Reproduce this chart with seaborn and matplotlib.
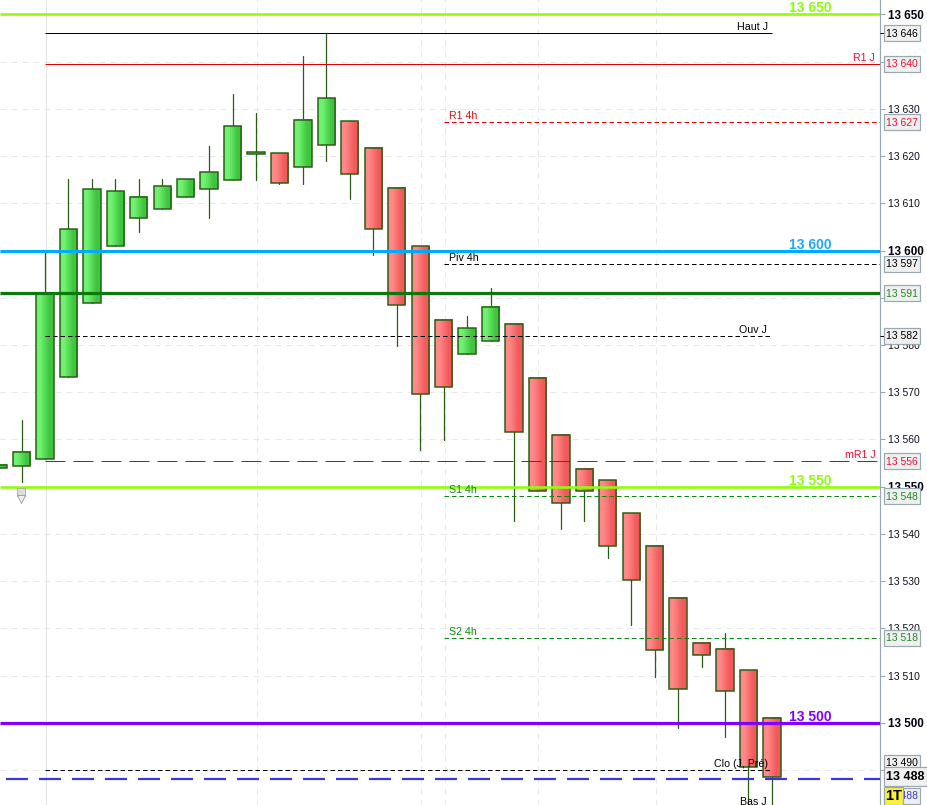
import matplotlib
matplotlib.use("Agg")
import matplotlib.pyplot as plt
from matplotlib.patches import Rectangle
import numpy as np
import pandas as pd
import seaborn as sns

# ---- data ----
opens = [13553.9, 13554.3, 13555.8, 13573.3, 13589.0, 13601.0, 13606.8, 13608.9, 13611.3, 13613.1, 13614.9,
         13620.5, 13620.6, 13617.6, 13622.4, 13627.4, 13621.7, 13613.2, 13600.9, 13585.3, 13578.1, 13580.8,
         13584.4, 13573.0, 13560.9, 13553.7, 13551.4, 13544.4, 13537.5, 13526.4, 13516.9, 13515.6, 13511.1, 13501.0]
closes = [13554.6, 13557.4, 13591.0, 13604.5, 13613.0, 13612.6, 13611.3, 13613.6, 13615.1, 13616.6, 13626.3,
          13620.9, 13614.4, 13627.6, 13632.3, 13616.2, 13604.5, 13588.4, 13569.6, 13571.1, 13583.6, 13588.0,
          13561.5, 13549.0, 13546.5, 13549.0, 13537.5, 13530.3, 13515.4, 13507.1, 13514.3, 13506.7, 13490.7, 13488.5]
highs = [13554.6, 13564.1, 13600.1, 13615.2, 13615.2, 13615.2, 13615.2, 13615.2, 13615.1, 13622.2, 13633.2,
         13629.1, 13620.6, 13641.2, 13646.0, 13627.4, 13621.7, 13613.2, 13600.9, 13585.3, 13586.2, 13592.0,
         13584.4, 13573.0, 13560.9, 13553.9, 13551.4, 13544.4, 13537.5, 13526.4, 13516.9, 13519.0, 13511.1, 13501.0]
lows = [13553.9, 13550.9, 13555.8, 13573.3, 13589.0, 13601.0, 13604.0, 13608.9, 13611.3, 13607.0, 13614.9,
        13615.0, 13614.0, 13614.0, 13619.0, 13611.0, 13599.0, 13579.9, 13557.8, 13559.9, 13578.1, 13580.8,
        13542.8, 13549.0, 13541.1, 13542.8, 13535.0, 13520.7, 13509.8, 13498.8, 13511.9, 13496.9, 13481.0, 13481.0]

round_levels = [13650, 13600, 13550, 13500]
round_labels = ["13 650", "13 600", "13 550", "13 500"]
pivot_names = ["Haut J", "R1 J", "R1 4h", "Piv 4h", "Ouv J", "mR1 J", "S1 4h", "S2 4h", "Clo (J, Pré)", "Bas J"]
pivot_values = [13646, 13639.6, 13627.2, 13597.2, 13582, 13555.4, 13548, 13518, 13490, 13482]
pivot_tags = ["13 646", "13 640", "13 627", "13 597", "13 582", "13 556", "13 548", "13 518", "13 490", "13 482"]
ma_level = 13591
last_price = 13488
grid_ticks = list(range(13490, 13660, 10))
hidden_tick_labels = [13490, 13590, 13640]
timeframe = "1T"

# ---- scale helpers (pixel layout -> data coordinates) ----
W, H = 927, 805
AX_R = 879.5
STEP = 23.45
X0 = 21.5
PX_PER_PT = 100 / 72
YMIN, YMAX = 13482.6, 13653.07


def px(x):
    return (x - X0) / STEP


def lw(p):
    return p / PX_PER_PT


def fx(x):
    return x / AX_R


sns.set_theme(style="white")
plt.rcParams["font.family"] = ["Liberation Sans", "DejaVu Sans"]
fig = plt.figure(figsize=(W / 100, H / 100), dpi=100)
ax = fig.add_axes([0, 0, AX_R / W, 1])
ax.set_xlim(px(0), px(AX_R))
ax.set_ylim(YMIN, YMAX)
ax.set_autoscale_on(False)
ax.set_xticks([])
for s in ["left", "top", "bottom"]:
    ax.spines[s].set_visible(False)
ax.spines["right"].set_color("#9AA8B0")
ax.spines["right"].set_linewidth(lw(1.2))

# grid
GRID = "#E8E8E8"
ax.hlines(grid_ticks, px(0), px(AX_R), color=GRID, lw=lw(1), linestyles=[(0, (6, 5))], zorder=1)
ax.vlines([px(x) for x in [256.5, 420.5, 444.5, 538, 655.5]], YMIN, YMAX, color=GRID, lw=lw(1),
          linestyles=[(0, (6, 5))], zorder=1)
ax.vlines(px(45.5), YMIN, YMAX, color="#E4E4E4", lw=lw(1), zorder=1)

# wicks
n = len(opens)
idx = np.arange(n) - 1
wicks = pd.DataFrame({
    "x": np.concatenate([idx, idx]),
    "y": np.array(lows + highs),
    "candle": np.concatenate([idx, idx]),
})
EDGE = "#285E14"
sns.lineplot(data=wicks, x="x", y="y", units="candle", estimator=None, color=EDGE,
             lw=lw(1.25), ax=ax, zorder=2, legend=False)
ax.set_xlabel("")
ax.set_ylabel("")

# bodies
GREEN = np.array([[[0x70, 0xF2, 0x70], [0x40, 0xC4, 0x40]]], dtype=float) / 255
RED = np.array([[[0xFF, 0x88, 0x88], [0xF2, 0x5A, 0x5A]]], dtype=float) / 255
BW = 17.3 / STEP
for i, o, c in zip(idx, opens, closes):
    lo, hi = min(o, c), max(o, c)
    grad = GREEN if c >= o else RED
    ax.imshow(grad, extent=[i - BW / 2, i + BW / 2, lo, hi], aspect="auto", interpolation="bilinear", zorder=3)
    ax.add_patch(Rectangle((i - BW / 2, lo), BW, hi - lo, fc="none", ec=EDGE, lw=lw(1.5), zorder=3.1))
ax.set_xlim(px(0), px(AX_R))
ax.set_ylim(YMIN, YMAX)

# horizontal levels
DASH = (0, (4.5, 3))
LIME = "#8CFF0A"
ax.hlines(13650, px(0), px(AX_R), color=LIME, lw=lw(2.6), zorder=4)
ax.hlines(13550, px(0), px(AX_R), color=LIME, lw=lw(2.6), zorder=4)
ax.hlines(13600, px(0), px(AX_R), color="#00AAFF", lw=lw(3), zorder=4)
ax.hlines(ma_level, px(0), px(AX_R), color="#087A08", lw=lw(3.2), zorder=4)
ax.hlines(13500, px(0), px(AX_R), color="#8000FF", lw=lw(3.2), zorder=4)
ax.hlines(last_price, px(6), px(AX_R), color="#3A35E0", lw=lw(2.2), linestyles=[(0, (10, 5))], zorder=4)

ax.hlines(pivot_values[0], px(45), px(772), color="#000000", lw=lw(1), zorder=4)
ax.hlines(pivot_values[1], px(45), px(AX_R), color="#E00000", lw=lw(1), zorder=4)
ax.hlines(pivot_values[2], px(444), px(AX_R), color="#F00000", lw=lw(1), linestyles=[DASH], zorder=4)
ax.hlines(pivot_values[3], px(444), px(AX_R), color="#000000", lw=lw(1), linestyles=[DASH], zorder=4)
ax.hlines(pivot_values[4], px(45), px(770), color="#000000", lw=lw(1), linestyles=[DASH], zorder=4)
ax.hlines(pivot_values[5], px(45), px(AX_R), color="#E00000", lw=lw(1), linestyles=[(0, (20, 8))], zorder=4)
ax.hlines(pivot_values[6], px(444), px(AX_R), color="#0A8A0A", lw=lw(1), linestyles=[DASH], zorder=4)
ax.hlines(pivot_values[7], px(444), px(AX_R), color="#0A8A0A", lw=lw(1), linestyles=[DASH], zorder=4)
ax.hlines(pivot_values[8], px(45), px(770), color="#000000", lw=lw(1), linestyles=[DASH], zorder=4)
for v in [pivot_values[0], pivot_values[4]]:
    ax.hlines(v, px(880), px(884), color="#000000", lw=lw(1), zorder=4, clip_on=False)

# round-number labels
round_colors = [LIME, "#1EA8F5", LIME, "#8000FF"]
for v, t, col in zip(round_levels, round_labels, round_colors):
    ax.annotate(t, (px(789), v), xytext=(0, lw(2)), textcoords="offset points", color=col,
                fontsize=10, fontweight="bold", ha="left", va="baseline", zorder=6, annotation_clip=False)

# pivot labels
label_x = [737, 853, 449, 449, 739, 845, 449, 449, 714, 740]
label_col = ["#000000", "#F01030", "#E01010", "#000000", "#000000", "#F01030", "#0A8A0A", "#0A8A0A", "#000000", "#000000"]
for name, v, x, col in zip(pivot_names, pivot_values, label_x, label_col):
    ax.annotate(name, (px(x), v), xytext=(0, lw(3)), textcoords="offset points", color=col,
                fontsize=7.7, ha="left", va="baseline", zorder=6, annotation_clip=False)

# icon
ax.plot([px(20.5)], [13548.9], marker="s", ms=6, mfc="#DDDDDD", mec="#AAAAAA", mew=0.6, zorder=5)
ax.plot([px(21)], [13547.3], marker="v", ms=6, mfc="#EEEEEE", mec="#999999", mew=0.6, zorder=5)

# axis ticks
ax.yaxis.tick_right()
ax.set_yticks(grid_ticks)
ax.set_yticklabels(["" if t in hidden_tick_labels else f"{t // 1000} {t % 1000:03d}" for t in grid_ticks],
                   fontsize=7.5, color="#101020")
ax.tick_params(axis="y", which="major", right=True, left=False, length=lw(5), width=lw(1), color="#9AA8B0",
               pad=lw(3), labelsize=7.5)
for lab, t in zip(ax.get_yticklabels(), grid_ticks):
    if t % 50 == 0:
        lab.set_fontweight("bold")
        lab.set_fontsize(8.4)
        lab.set_color("#000010")

# right-hand tags
trans = ax.get_yaxis_transform()
UNIT = 4.723


def tag(yc, text, color, x0=884, x1=920, h=16, fs=7.5, fw="normal", face="#F0F0F0", z=10):
    ax.add_patch(Rectangle((fx(x0), yc - h / 2 / UNIT), fx(x1) - fx(x0), h / UNIT, transform=trans,
                           fc=face, ec="#9AA8B0", lw=lw(1.2), clip_on=False, zorder=z))
    if text:
        ax.text(fx((x0 + x1) / 2), yc - 0.1, text, transform=trans, color=color, fontsize=fs, fontweight=fw,
                ha="center", va="center", clip_on=False, zorder=z + 0.1)


tag(13481.0, "", "#000000", z=9)
tag(13491.6, pivot_tags[8], "#000000", z=9)
tag(13484.6, "13 488", "#3A35E0", z=9)
tag_colors = ["#000000", "#F01030", "#F01030", "#000000", "#000000", "#F01030", "#1F8A1F", "#1F8A1F"]
for v, t, col in zip(pivot_values[:8], pivot_tags[:8], tag_colors):
    tag(v, t, col)
tag(ma_level, "13 591", "#1F8A1F")
tag(13488.65, "13 488", "#000000", x1=927, h=19, fs=9, fw="bold", z=12)
tag(13484.5, timeframe, "#000000", x1=903, h=18, fs=10.5, fw="bold", face="#F8F040", z=12)

fig.savefig("out.png", dpi=100)
